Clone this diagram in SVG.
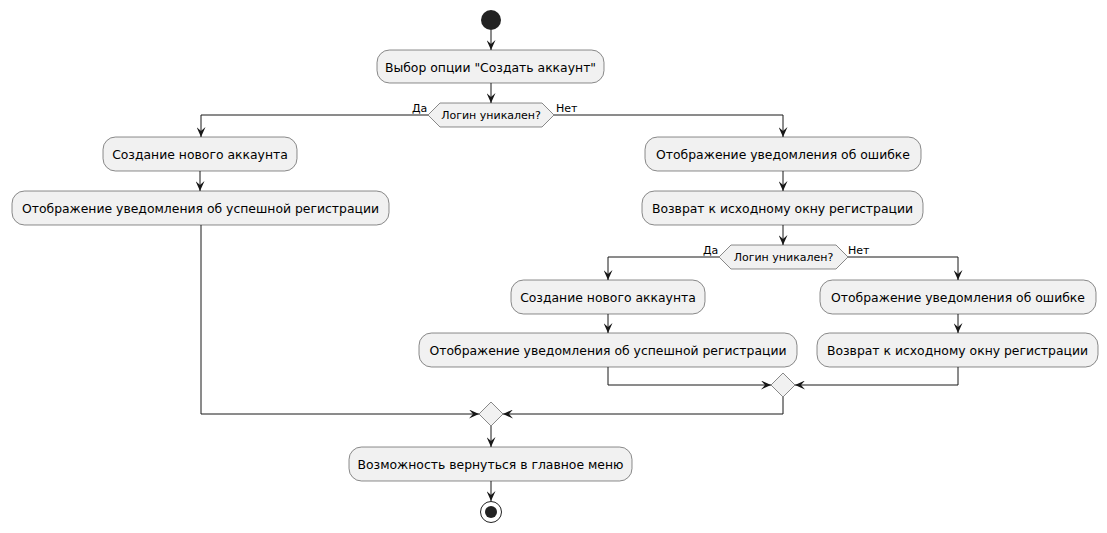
<svg xmlns="http://www.w3.org/2000/svg" width="1107" height="533" viewBox="0 0 1107 533">
  <style>
    .act { fill: #F1F1F1; stroke: #181818; stroke-width: 0.5; }
    .dec { fill: #F1F1F1; stroke: #181818; stroke-width: 0.5; }
    .lbl { font-family: "DejaVu Sans", "Noto Sans", sans-serif; font-size: 12.4px; fill: #000; text-anchor: middle; }
    .dlbl { font-family: "DejaVu Sans", "Noto Sans", sans-serif; font-size: 11px; fill: #000; text-anchor: middle; }
    .side { font-family: "DejaVu Sans", "Noto Sans", sans-serif; font-size: 11px; fill: #000; }
    .edge { fill: none; stroke: #181818; stroke-width: 1; marker-end: url(#arrow); }
  </style>
  <defs>
    <marker id="arrow" viewBox="0 0 10 9" markerWidth="10" markerHeight="9" refX="10" refY="4.5" orient="auto" markerUnits="userSpaceOnUse">
      <path d="M0,0 L10,4.5 L0,9 L4,4.5 Z" fill="#181818"/>
    </marker>
  </defs>
  <rect width="1107" height="533" fill="#FFFFFF"/>

  <g id="connectors">
    <path class="edge" d="M491,30 L491,50"/>
    <path class="edge" d="M491,83 L491,103"/>
    <path class="edge" d="M428,115 L201,115 L201,137"/>
    <path class="edge" d="M554,115 L783,115 L783,137"/>
    <path class="edge" d="M200,171 L200,191"/>
    <path class="edge" d="M783,171 L783,191"/>
    <path class="edge" d="M783,225 L783,245"/>
    <path class="edge" d="M719,257 L608,257 L608,280"/>
    <path class="edge" d="M848,257 L958,257 L958,280"/>
    <path class="edge" d="M608,314 L608,333"/>
    <path class="edge" d="M958,314 L958,333"/>
    <path class="edge" d="M608,367 L608,385 L771,385"/>
    <path class="edge" d="M958,367 L958,385 L795,385"/>
    <path class="edge" d="M783,397 L783,414 L503,414"/>
    <path class="edge" d="M201,225 L201,414 L479,414"/>
    <path class="edge" d="M491,426 L491,447"/>
    <path class="edge" d="M491,481 L491,501"/>
  </g>

  <g id="start">
    <circle cx="491" cy="20" r="10" fill="#222222"/>
  </g>

  <g id="choose-option">
    <rect class="act" x="377" y="50" width="227" height="33" rx="12.5"/>
    <text class="lbl" x="490.5" y="71.5">Выбор опции "Создать аккаунт"</text>
  </g>

  <g id="check-login-1">
    <polygon class="dec" points="428,115 440,103 542,103 554,115 542,127 440,127"/>
    <text class="dlbl" x="491" y="119">Логин уникален?</text>
    <text class="side" x="412" y="112">Да</text>
    <text class="side" x="556" y="112">Нет</text>
  </g>

  <g id="create-account-1">
    <rect class="act" x="103" y="137" width="194" height="34" rx="12.5"/>
    <text class="lbl" x="200" y="158.5">Создание нового аккаунта</text>
  </g>

  <g id="success-1">
    <rect class="act" x="12" y="191" width="377" height="34" rx="12.5"/>
    <text class="lbl" x="200.5" y="212.5">Отображение уведомления об успешной регистрации</text>
  </g>

  <g id="error-1">
    <rect class="act" x="645" y="137" width="276" height="34" rx="12.5"/>
    <text class="lbl" x="783" y="158.5">Отображение уведомления об ошибке</text>
  </g>

  <g id="back-1">
    <rect class="act" x="642" y="191" width="281" height="34" rx="12.5"/>
    <text class="lbl" x="782.5" y="212.5">Возврат к исходному окну регистрации</text>
  </g>

  <g id="check-login-2">
    <polygon class="dec" points="719,257 731,245 836,245 848,257 836,269 731,269"/>
    <text class="dlbl" x="783.5" y="261">Логин уникален?</text>
    <text class="side" x="703" y="254">Да</text>
    <text class="side" x="848" y="254">Нет</text>
  </g>

  <g id="create-account-2">
    <rect class="act" x="511" y="280" width="194" height="34" rx="12.5"/>
    <text class="lbl" x="608" y="301.5">Создание нового аккаунта</text>
  </g>

  <g id="success-2">
    <rect class="act" x="419" y="333" width="378" height="34" rx="12.5"/>
    <text class="lbl" x="608" y="354.5">Отображение уведомления об успешной регистрации</text>
  </g>

  <g id="error-2">
    <rect class="act" x="820" y="280" width="276" height="34" rx="12.5"/>
    <text class="lbl" x="958" y="301.5">Отображение уведомления об ошибке</text>
  </g>

  <g id="back-2">
    <rect class="act" x="817" y="333" width="281" height="34" rx="12.5"/>
    <text class="lbl" x="957.5" y="354.5">Возврат к исходному окну регистрации</text>
  </g>

  <g id="merge-2">
    <polygon class="dec" points="783,373 795,385 783,397 771,385"/>
  </g>

  <g id="merge-1">
    <polygon class="dec" points="491,402 503,414 491,426 479,414"/>
  </g>

  <g id="main-menu">
    <rect class="act" x="349" y="447" width="283" height="34" rx="12.5"/>
    <text class="lbl" x="490.5" y="468.5">Возможность вернуться в главное меню</text>
  </g>

  <g id="end">
    <circle cx="491" cy="512" r="10.5" fill="none" stroke="#222222" stroke-width="1"/>
    <circle cx="491" cy="512" r="6" fill="#222222"/>
  </g>
</svg>
